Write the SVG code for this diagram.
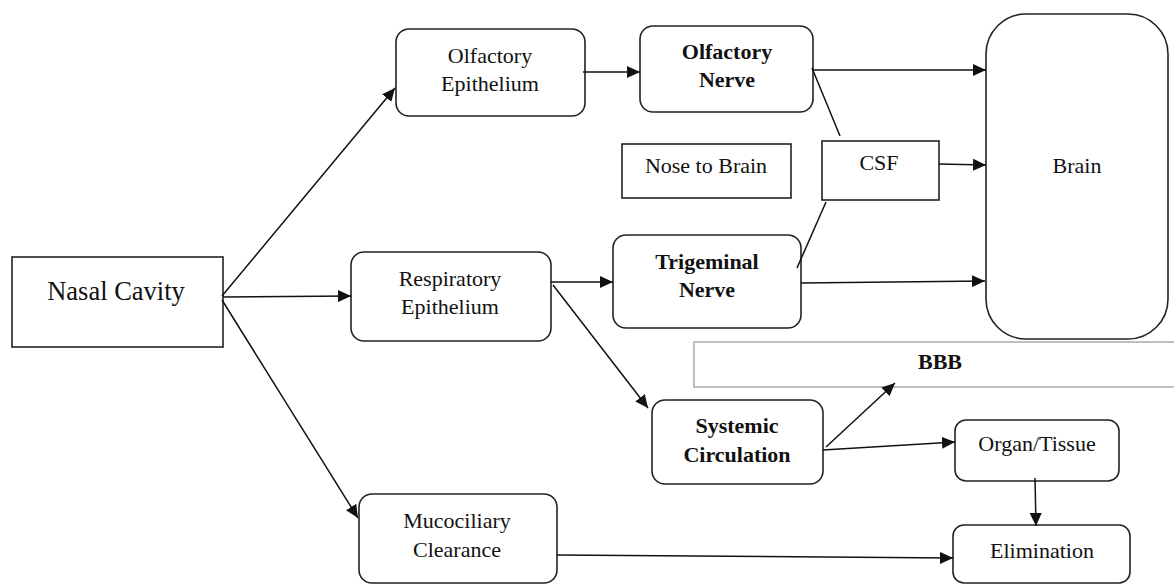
<svg xmlns="http://www.w3.org/2000/svg" width="1174" height="585" viewBox="0 0 1174 585">
<style>
  .box { fill: #fff; stroke: #222; stroke-width: 1.6; }
  .gbox { fill: #fff; stroke: #b0b0b0; stroke-width: 1.6; }
  .t { font-family: 'Liberation Serif', 'Times New Roman', serif; font-size: 22px; fill: #111; text-anchor: middle; }
  .b { font-weight: bold; }
  .big { font-size: 26.5px; }
  .c { fill: none; stroke: #111; stroke-width: 1.5; }
  .a { marker-end: url(#arr); }
</style>
<defs>
  <marker id="arr" markerUnits="userSpaceOnUse" markerWidth="14" markerHeight="12" viewBox="0 0 14 12" refX="13" refY="6" orient="auto">
    <path d="M0,0 L13,6 L0,12 z" fill="#111"/>
  </marker>
</defs>
<rect width="1174" height="585" fill="#fff"/>

<g id="bbb">
  <rect class="gbox" x="694" y="342" width="490" height="45"/>
  <text class="t b" x="940" y="369">BBB</text>
</g>

<g id="nasal-cavity">
  <rect class="box" x="12" y="257" width="211" height="90"/>
  <text class="t big" x="116" y="300">Nasal Cavity</text>
</g>

<g id="olfactory-epithelium">
  <rect class="box" x="396" y="29" width="189" height="87" rx="13"/>
  <text class="t" x="490" y="63">Olfactory</text>
  <text class="t" x="490" y="91">Epithelium</text>
</g>

<g id="olfactory-nerve">
  <rect class="box" x="640" y="26" width="173" height="86" rx="13"/>
  <text class="t b" x="727" y="59">Olfactory</text>
  <text class="t b" x="727" y="87">Nerve</text>
</g>

<g id="nose-to-brain">
  <rect class="box" x="622" y="144" width="169" height="54"/>
  <text class="t" x="706" y="173">Nose to Brain</text>
</g>

<g id="csf">
  <rect class="box" x="822" y="141" width="117" height="59"/>
  <text class="t" x="879" y="170">CSF</text>
</g>

<g id="brain">
  <rect class="box" x="986" y="14" width="182" height="325" rx="40"/>
  <text class="t" x="1077" y="173">Brain</text>
</g>

<g id="respiratory-epithelium">
  <rect class="box" x="351" y="252" width="200" height="89" rx="13"/>
  <text class="t" x="450" y="286">Respiratory</text>
  <text class="t" x="450" y="314">Epithelium</text>
</g>

<g id="trigeminal-nerve">
  <rect class="box" x="613" y="235" width="188" height="93" rx="13"/>
  <text class="t b" x="707" y="269">Trigeminal</text>
  <text class="t b" x="707" y="297">Nerve</text>
</g>

<g id="systemic-circulation">
  <rect class="box" x="652" y="400" width="171" height="84" rx="13"/>
  <text class="t b" x="737" y="433">Systemic</text>
  <text class="t b" x="737" y="462">Circulation</text>
</g>

<g id="organ-tissue">
  <rect class="box" x="955" y="420" width="164" height="61" rx="11"/>
  <text class="t" x="1037" y="451">Organ/Tissue</text>
</g>

<g id="mucociliary-clearance">
  <rect class="box" x="359" y="494" width="198" height="89" rx="13"/>
  <text class="t" x="457" y="528">Mucociliary</text>
  <text class="t" x="457" y="557">Clearance</text>
</g>

<g id="elimination">
  <rect class="box" x="953" y="525" width="177" height="58" rx="11"/>
  <text class="t" x="1042" y="558">Elimination</text>
</g>

<g id="connectors">
  <path class="c a" d="M222,296 L395,88"/>
  <path class="c a" d="M223,297 L351,296"/>
  <path class="c a" d="M222,300 L358,518"/>
  <path class="c a" d="M583,72 L640,72"/>
  <path class="c a" d="M813,70 L986,70"/>
  <path class="c" d="M812,68 L840,136"/>
  <path class="c a" d="M939,164 L986,165"/>
  <path class="c" d="M826,202 L797,268"/>
  <path class="c a" d="M801,283 L985,281"/>
  <path class="c a" d="M551,282 L613,282"/>
  <path class="c a" d="M553,285 L648,408"/>
  <path class="c a" d="M826,447 L895,383"/>
  <path class="c a" d="M823,450 L955,442"/>
  <path class="c a" d="M1035,478 L1036,526"/>
  <path class="c a" d="M557,555 L953,558"/>
</g>
</svg>
